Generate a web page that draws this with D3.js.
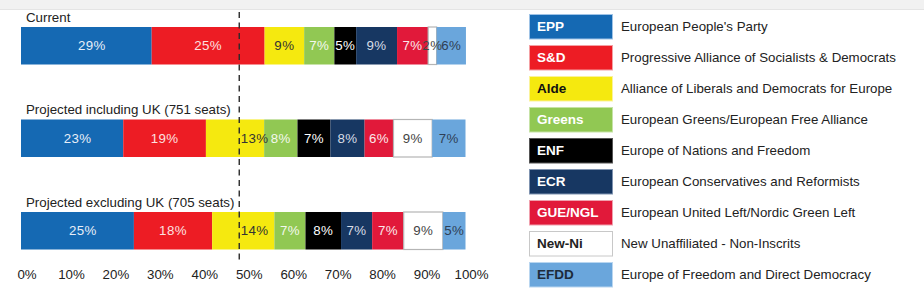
<!DOCTYPE html>
<html><head><meta charset="utf-8">
<script src="https://cdn.jsdelivr.net/npm/d3@7"></script>
<style>
html,body{margin:0;padding:0;background:#fff;}
svg{display:block;font-family:"Liberation Sans",Arial,Helvetica,sans-serif;}
</style></head>
<body><svg id="c" width="924" height="297"></svg>
<script>
// ---- data ----
const parties = ["EPP","S&D","Alde","Greens","ENF","ECR","GUE/NGL","New-Ni","EFDD"];
const partyNames = [
  "European People's Party",
  "Progressive Alliance of Socialists & Democrats",
  "Alliance of Liberals and Democrats for Europe",
  "European Greens/European Free Alliance",
  "Europe of Nations and Freedom",
  "European Conservatives and Reformists",
  "European United Left/Nordic Green Left",
  "New Unaffiliated - Non-Inscrits",
  "Europe of Freedom and Direct Democracy"
];
const scenarios = ["Current","Projected including UK (751 seats)","Projected excluding UK (705 seats)"];
const currentValues   = [29.4, 25.4, 8.9, 6.8, 4.9, 9.2, 7.0, 1.9, 6.6];
const includingValues = [23.0, 18.6, 13.1, 7.5, 7.4, 7.7, 6.5, 8.7, 7.5];
const excludingValues = [25.4, 17.6, 14.0, 7.0, 8.0, 7.0, 7.1, 8.8, 5.1];
const currentLabels   = ["29%","25%","9%","7%","5%","9%","7%","2%","6%"];
const includingLabels = ["23%","19%","13%","8%","7%","8%","6%","9%","7%"];
const excludingLabels = ["25%","18%","14%","7%","8%","7%","7%","9%","5%"];
const majorityLine = 49.1;
const xTicks = [0,10,20,30,40,50,60,70,80,90,100];

// ---- styles ----
const fillColors  = ["#1569b3","#ed1c24","#f5e90f","#91c853","#000000","#173762","#e1193a","#ffffff","#6aa6dc"];
const barText     = ["#e8eef8","#fde0e0","#333333","#f4f8ee","#ffffff","#d8dde6","#fbe8ea","#444444","#2f3f55"];
const legendText  = ["#ffffff","#ffffff","#111111","#ffffff","#ffffff","#ffffff","#ffffff","#222222","#1d2b3a"];
const legendStroke= ["#9fc3e6","#f4a0a3","#faf39a","#c6e3a6","#555555","#7f93b0","#f0a0ad","#c8c8c8","#b9d6f0"];

const rows = [
  {title: scenarios[0], values: currentValues,   labels: currentLabels},
  {title: scenarios[1], values: includingValues, labels: includingLabels},
  {title: scenarios[2], values: excludingValues, labels: excludingLabels}
];

const svg = d3.select("#c");
svg.append("rect").attr("x",0).attr("y",0).attr("width",924).attr("height",9).attr("fill","#f1f1f1");
svg.append("line").attr("x1",0).attr("x2",924).attr("y1",9.5).attr("y2",9.5).attr("stroke","#e4e4e4");

const x = d3.scaleLinear().domain([0,100]).range([21,465.5]);
const y = d3.scalePoint().domain(scenarios).range([27,212]);
const barH = 37.5;

rows.forEach((r,ri)=>{
  let acc = 0;
  const segs = r.values.map((v,i)=>{ const s={i, v, x0:acc, x1:acc+v, label:r.labels[i]}; acc+=v; return s; });
  const g = svg.append("g");
  const y0 = y(r.title);
  g.append("text").attr("x",26).attr("y",y0-5.5).attr("font-size",13.3).attr("fill","#222").text(r.title);
  g.selectAll("rect").data(segs).join("rect")
    .attr("x",d=>x(d.x0)).attr("y",y0)
    .attr("width",d=>x(d.x1)-x(d.x0)).attr("height",barH)
    .attr("fill",d=>fillColors[d.i])
    .attr("stroke",d=>d.i===7?"#b5b5b5":"none").attr("stroke-width",1.2);
  const crosses = d => { const c = x((d.x0+d.x1)/2), lx = x(majorityLine); return x(d.x0) < lx && x(d.x1) > lx && Math.abs(c-lx) < 16; };
  g.selectAll("text.lab").data(segs).join("text").attr("class","lab")
    .attr("x",d=> crosses(d) ? x(majorityLine)+1.5 : x((d.x0+d.x1)/2) + (d.i===0?5.5:0))
    .attr("text-anchor",d=> crosses(d) ? "start" : "middle")
    .attr("y",y0+barH/2+4.5).attr("font-size",13.3).attr("letter-spacing",0.4)
    .attr("fill",d=>barText[d.i]).text(d=>d.label);
});

// majority dashed line
svg.append("line").attr("x1",x(majorityLine)).attr("x2",x(majorityLine))
  .attr("y1",12).attr("y2",262).attr("stroke","#2a2a2a").attr("stroke-width",1.4)
  .attr("stroke-dasharray","6,4.5");

// axis
const axis = d3.axisBottom(x).tickValues(xTicks).tickFormat(d=>d+"%").tickSize(0);
const ax = svg.append("g").attr("transform","translate(5.5,270)").call(axis);
ax.select(".domain").remove();
ax.selectAll("text").attr("font-size",13.3).attr("fill","#222").attr("dy","0.71em")
  .style("font-family","'Liberation Sans',Arial,sans-serif").attr("y",0);

// legend
const ly = d3.scaleBand().domain(parties).range([14,14+31*parties.length]);
const lg = svg.append("g");
lg.selectAll("rect").data(parties).join("rect")
  .attr("x",529.5).attr("y",d=>ly(d)+0.5).attr("width",83).attr("height",24.5)
  .attr("fill",(d,i)=>fillColors[i]).attr("stroke",(d,i)=>legendStroke[i]).attr("stroke-width",1);
lg.selectAll("text.code").data(parties).join("text").attr("class","code")
  .attr("x",537).attr("y",d=>ly(d)+17).attr("font-size",13.5).attr("font-weight","bold")
  .attr("fill",(d,i)=>legendText[i]).text(d=>d);
lg.selectAll("text.name").data(parties).join("text").attr("class","name")
  .attr("x",621).attr("y",d=>ly(d)+17).attr("font-size",13.3).attr("fill","#222")
  .text((d,i)=>partyNames[i]);
</script></body></html>
